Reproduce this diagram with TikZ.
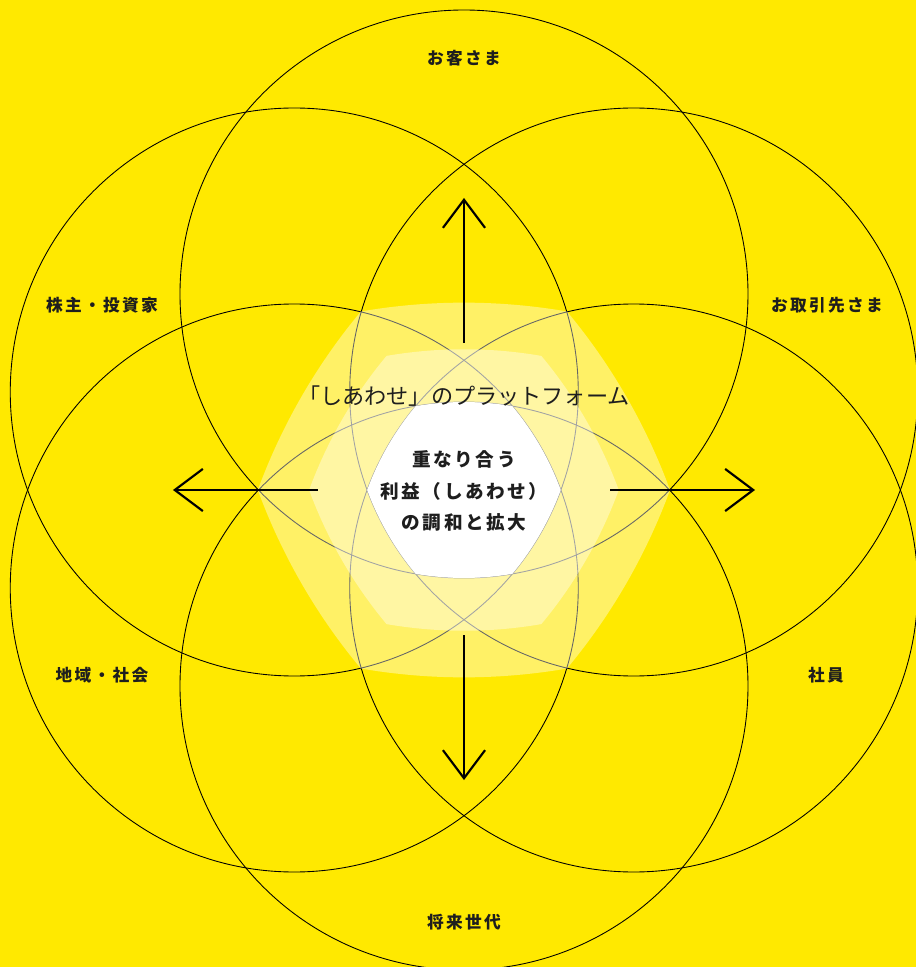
\documentclass[tikz,border=0pt]{standalone}
\usepackage{fontspec}
\usepackage{tikz}
\usepackage{xcolor}
\usetikzlibrary{arrows.meta,positioning}
\newfontfamily\jpfont[LetterSpace=14]{Noto Sans CJK JP}
\newfontfamily\jptitle{Noto Sans CJK JP}
\definecolor{sunyellow}{HTML}{FFE900}
\definecolor{inktext}{HTML}{1E1E1E}
\newcommand{\glowshape}[1]{(180:#1*96.8)
	arc[start angle=200.19, end angle=219.81, radius=#1*284]
	arc[start angle=260.19, end angle=279.81, radius=#1*284]
	arc[start angle=320.19, end angle=339.81, radius=#1*284]
	arc[start angle=20.19, end angle=39.81, radius=#1*284]
	arc[start angle=80.19, end angle=99.81, radius=#1*284]
	arc[start angle=140.19, end angle=159.81, radius=#1*284] -- cycle}
\tikzset{
	ring/.style={draw=black, line width=0.5pt},
	ringtext/.style={font=\jpfont\bfseries\fontsize{9.5}{11}\selectfont, text=inktext, inner sep=1pt},
	centertext/.style={font=\jpfont\bfseries\fontsize{10.6}{18}\selectfont, text=inktext, align=center},
	titletext/.style={font=\jptitle\fontsize{12.6}{14}\selectfont, text=inktext},
	growarrow/.style={line width=1.2pt, -{Straight Barb[length=16pt, width=24pt, line width=1.2pt]}}
}

\begin{document}
\begin{tikzpicture}[x=0.02cm, y=0.02cm]
		\clip (-464,-477) rectangle (452,490);
		\fill[sunyellow] (-464,-477) rectangle (452,490);

		\coordinate (kyaku) at (90:196);
		\coordinate (partner) at (30:196);
		\coordinate (staff) at (-30:196);
		\coordinate (future) at (-90:196);
		\coordinate (region) at (-150:196);
		\coordinate (holder) at (150:196);

		\draw[ring] (kyaku) circle[radius=284];
		\draw[ring] (partner) circle[radius=284];
		\draw[ring] (staff) circle[radius=284];
		\draw[ring] (future) circle[radius=284];
		\draw[ring] (region) circle[radius=284];
		\draw[ring] (holder) circle[radius=284];

		\fill[white, opacity=0.4] \glowshape{2.13};
		\fill[white, opacity=0.4] \glowshape{1.6};
		\fill[white] \glowshape{1};

		\coordinate (upin) at (0,147);
		\coordinate (uptip) at (0,292);
		\coordinate (downin) at (0,-145);
		\coordinate (downtip) at (0,-290);
		\coordinate (leftin) at (-146,0);
		\coordinate (lefttip) at (-291,0);
		\coordinate (rightin) at (146,0);
		\coordinate (righttip) at (291,0);
		\draw[growarrow] (upin) -- (uptip);
		\draw[growarrow] (downin) -- (downtip);
		\draw[growarrow] (leftin) -- (lefttip);
		\draw[growarrow] (rightin) -- (righttip);

		\node[titletext] (platform) at (0,94) {「しあわせ」のプラットフォーム};
		\node[centertext] (core) at (0,-1) {重なり合う\\利益（しあわせ）\\の調和と拡大};

		\node[ringtext] (kyakulbl) at (0,432) {お客さま};
		\node[ringtext] (partnerlbl) at (363,185) {お取引先さま};
		\node[ringtext] (stafflbl) at (362,-185) {社員};
		\node[ringtext] (futurelbl) at (0,-432) {将来世代};
		\node[ringtext] (regionlbl) at (-362,-185) {地域・社会};
		\node[ringtext] (holderlbl) at (-362,185) {株主・投資家};
	\end{tikzpicture}
\end{document}
